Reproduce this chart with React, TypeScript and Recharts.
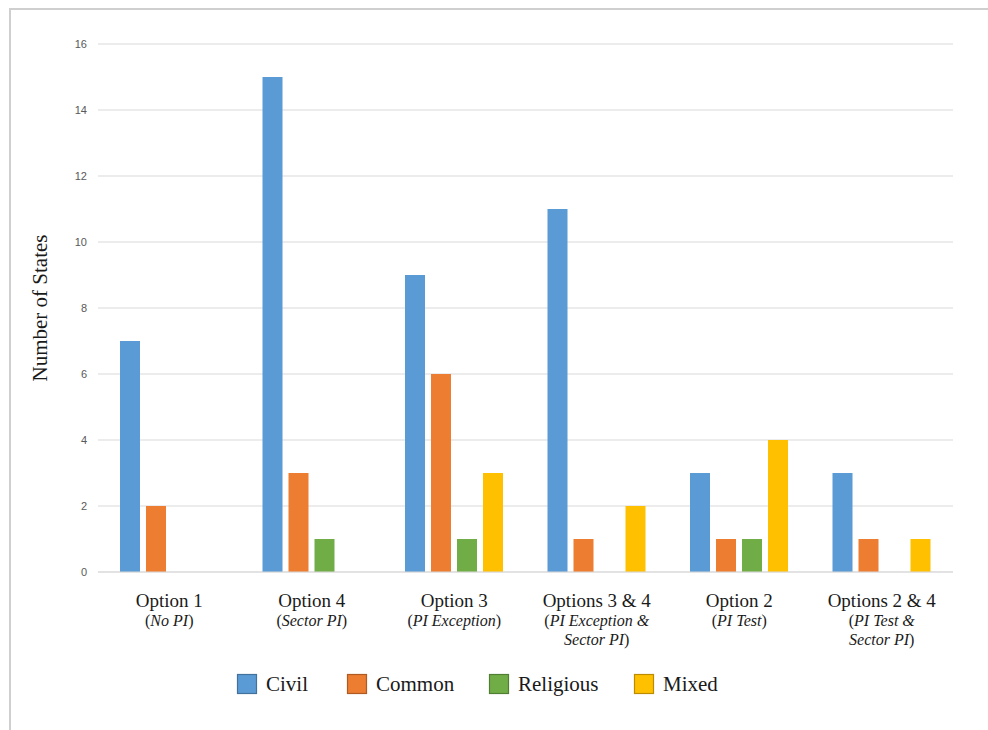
import React from 'react';
import { BarChart, Bar, XAxis, YAxis, CartesianGrid, Legend } from 'recharts';

const categories = ['Option 1', 'Option 4', 'Option 3', 'Options 3 & 4', 'Option 2', 'Options 2 & 4'];
const subLabels = [
  ['No PI'],
  ['Sector PI'],
  ['PI Exception'],
  ['PI Exception &', 'Sector PI'],
  ['PI Test'],
  ['PI Test &', 'Sector PI'],
];

const civil = [7, 15, 9, 11, 3, 3];
const common = [2, 3, 6, 1, 1, 1];
const religious = [0, 1, 1, 0, 1, 0];
const mixed = [0, 0, 3, 2, 4, 1];

const yTicks = [0, 2, 4, 6, 8, 10, 12, 14, 16];

const SERIES = [
  { key: 'civil', name: 'Civil', fill: '#5b9bd5', edge: '#41719c' },
  { key: 'common', name: 'Common', fill: '#ed7d31', edge: '#ae5a21' },
  { key: 'religious', name: 'Religious', fill: '#70ad47', edge: '#507e32' },
  { key: 'mixed', name: 'Mixed', fill: '#ffc000', edge: '#bc8c00' },
];

// left edge of each legend swatch, relative to the legend box
const legendX = [199, 309, 451, 596];

const SERIF = "'Liberation Serif', 'DejaVu Serif', serif";
const SANS = "'Liberation Sans', Arial, sans-serif";

const data = categories.map((name, i) => ({
  name,
  civil: civil[i],
  common: common[i],
  religious: religious[i],
  mixed: mixed[i],
}));

// category name on top, italic description in parentheses below
const CategoryTick = (props: any) => {
  const { x, y, payload } = props;
  const i = categories.indexOf(payload.value);
  const lines = subLabels[i] || [];
  return (
    <g>
      <text x={x} y={y + 27} textAnchor="middle" fontFamily={SERIF} fontSize={19} fill="#1a1a1a">
        {payload.value}
      </text>
      {lines.map((line, li) => {
        const first = li === 0;
        const last = li === lines.length - 1;
        return (
          <text
            key={li}
            x={x}
            y={y + 46 + li * 19}
            textAnchor="middle"
            fontFamily={SERIF}
            fontSize={16}
            fill="#1a1a1a"
          >
            {first && <tspan>(</tspan>}
            <tspan fontStyle="italic">{line}</tspan>
            {last && <tspan>)</tspan>}
          </text>
        );
      })}
    </g>
  );
};

const LegendBox = () => (
  <svg width={915} height={48} style={{ display: 'block' }}>
    {SERIES.map((s, i) => (
      <g key={s.key}>
        <rect x={legendX[i] + 0.5} y={14.5} width={19} height={19} fill={s.fill} stroke={s.edge} strokeWidth={1.2} />
        <text x={legendX[i] + 29} y={31} fontFamily={SERIF} fontSize={21} fill="#1a1a1a">
          {s.name}
        </text>
      </g>
    ))}
  </svg>
);

const YTitle = (props: any) => {
  const { viewBox } = props;
  const cy = viewBox.y + viewBox.height / 2;
  const cx = 40;
  return (
    <text
      x={cx}
      y={cy}
      transform={`rotate(-90, ${cx}, ${cy})`}
      textAnchor="middle"
      dominantBaseline="central"
      fontFamily={SERIF}
      fontSize={21}
      fill="#1a1a1a"
    >
      Number of States
    </text>
  );
};

export default function App() {
  return (
    <div style={{ position: 'absolute', left: 0, top: 0, width: 988, height: 730, overflow: 'hidden', background: '#fff' }}>
      <div
        style={{
          position: 'absolute',
          left: 9,
          top: 8,
          width: 1000,
          height: 760,
          border: '2px solid #cfcfcf',
          boxSizing: 'border-box',
        }}
      />
      <div style={{ position: 'absolute', left: 0, top: 0 }}>
        <BarChart
          width={988}
          height={730}
          data={data}
          barSize={20}
          barGap={6}
          margin={{ top: 44, right: 35, left: 38, bottom: 22 }}
        >
          <CartesianGrid vertical={false} stroke="#d9d9d9" />
          <XAxis
            dataKey="name"
            height={88}
            axisLine={{ stroke: '#d9d9d9' }}
            tickLine={false}
            interval={0}
            tick={<CategoryTick />}
          />
          <YAxis
            width={60}
            domain={[0, 16]}
            ticks={yTicks}
            axisLine={false}
            tickLine={false}
            tickMargin={5}
            tick={{ fontFamily: SANS, fontSize: 11, fill: '#595959' }}
            label={<YTitle />}
          />
          <Legend verticalAlign="bottom" content={<LegendBox />} />
          {SERIES.map((s) => (
            <Bar key={s.key} dataKey={s.key} name={s.name} fill={s.fill} isAnimationActive={false} />
          ))}
        </BarChart>
      </div>
    </div>
  );
}
